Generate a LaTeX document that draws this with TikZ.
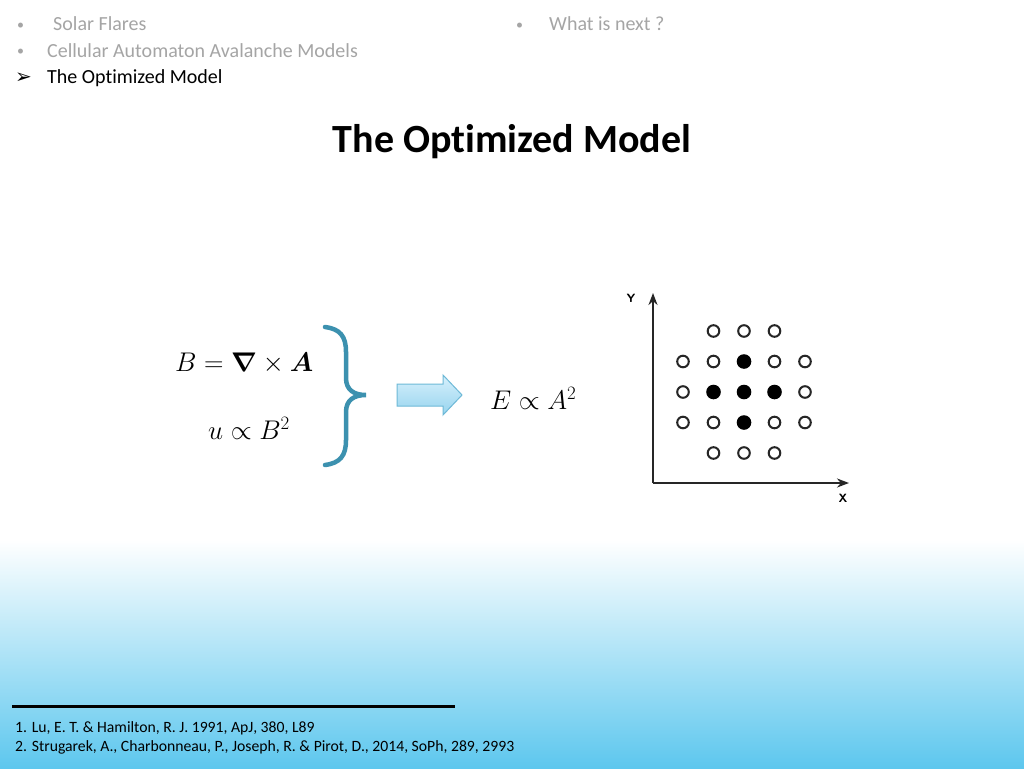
\documentclass[tikz,border=0pt]{standalone}
\usepackage{fix-cm}
\usepackage{amsmath,bm}
\usepackage{fontspec}
\usetikzlibrary{arrows.meta}
\setmainfont{Carlito}[Ligatures=CommonOff]
\newfontfamily\symfont{DejaVu Sans}
\definecolor{menugray}{RGB}{165,165,165}
\definecolor{bracecol}{RGB}{60,145,175}
\definecolor{skyblue}{RGB}{93,199,238}
\definecolor{arrowtop}{RGB}{215,240,252}
\definecolor{arrowbot}{RGB}{150,212,238}
\definecolor{arrowline}{RGB}{110,185,215}
\tikzset{
  menutext/.style={anchor=base west, inner sep=0pt, font=\fontsize{20}{22}\selectfont, text=menugray},
  bullet/.style={anchor=base west, inner sep=0pt, font=\fontsize{14}{16}\selectfont, text=menugray},
  mathtext/.style={anchor=base west, inner sep=0pt, font=\fontsize{27}{30}\selectfont},
  reftext/.style={anchor=base west, inner sep=0pt, font=\fontsize{15.7}{17}\selectfont},
  opendot/.style={draw=black!85, line width=2pt, fill=white},
  fulldot/.style={fill=black},
  axislabel/.style={inner sep=0pt, font=\fontsize{12}{12}\selectfont\bfseries\sffamily},
}
\begin{document}
\begin{tikzpicture}[x=1pt,y=-1pt]
\useasboundingbox (0,0) rectangle (1024,768);
\fill[white] (0,0) rectangle (1024,540);
\shade[top color=white, bottom color=skyblue] (0,540) rectangle (1024,768);
% menu
\node[bullet] (b1) at (17,30) {•};
\node[menutext] (m1) at (53,31) {Solar Flares};
\node[bullet] (b2) at (17,56) {•};
\node[menutext] (m2) at (47,57) {Cellular Automaton Avalanche Models};
\node[menutext, text=black] (b3) at (15,83) {\symfont\fontsize{20}{20}\selectfont ➢};
\node[menutext, text=black] (m3) at (47,83) {The Optimized Model};
\node[bullet] (b4) at (516,30) {•};
\node[menutext] (m4) at (549,31) {What is next ?};
% title
\node[anchor=base, inner sep=0pt, font=\fontsize{40}{44}\selectfont\bfseries] (title) at (512,152) {The Optimized Model};
% equations
\node[mathtext] (eq1) at (175,371) {$B = \bm{\nabla}\times\bm{A}$};
\node[mathtext] (eq2) at (208,439) {$u \propto B^2$};
\node[mathtext] (eq3) at (490,409) {$E \propto A^2$};
% brace
\draw[bracecol, line width=4.5pt, line cap=round]
  (325,327) .. controls (340,329) and (346,336) .. (346,352)
  -- (346,378) .. controls (346,390) and (354,395) .. (366,395)
  .. controls (354,395) and (346,400) .. (346,412)
  -- (346,440) .. controls (346,456) and (340,463) .. (325,465);
% block arrow
\shade[top color=arrowtop, bottom color=arrowbot, draw=arrowline, line width=1pt]
  (397,384) -- (443,384) -- (443,375) -- (462,395) -- (443,415) -- (443,406) -- (397,406) -- cycle;
% plot
\coordinate (origin) at (653,483);
\coordinate (ytip) at (653,293);
\coordinate (xtip) at (849,483);
\draw[black!85, line width=2pt, -{Stealth[length=12pt,width=9pt]}] (origin) -- (ytip);
\draw[black!85, line width=2pt, -{Stealth[length=12pt,width=9pt]}] (origin) -- (xtip);
\node[axislabel] (ylab) at (631,298) {Y};
\node[axislabel] (xlab) at (843,498) {X};
\foreach \c/\r in {2/1,3/1,4/1, 1/2,2/2,4/2,5/2, 1/3,5/3, 1/4,2/4,4/4,5/4, 2/5,3/5,4/5}{
  \draw[opendot] ({652.5+30.5*\c},{300.5+30.5*\r}) circle (5.8);
}
\foreach \c/\r in {3/2, 2/3,3/3,4/3, 3/4}{
  \fill[fulldot] ({652.5+30.5*\c},{300.5+30.5*\r}) circle (7.3);
}
% footnotes
\draw[black, line width=3pt] (12,706) -- (455,706);
\node[reftext] (r1) at (15,732) {1. Lu, E. T. \& Hamilton, R. J. 1991, ApJ, 380, L89};
\node[reftext] (r2) at (15,751) {2. Strugarek, A., Charbonneau, P., Joseph, R. \& Pirot, D., 2014, SoPh, 289, 2993};
\end{tikzpicture}
\end{document}
